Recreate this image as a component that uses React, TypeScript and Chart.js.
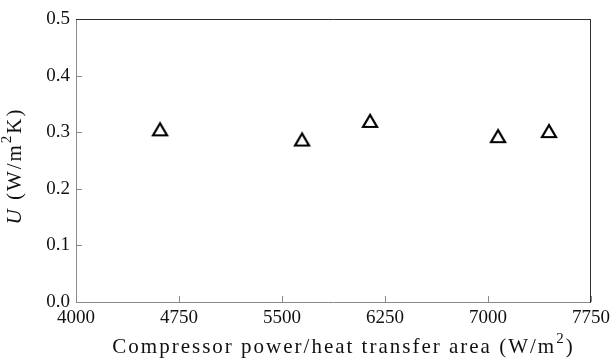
import React, { useEffect, useRef } from 'react';
import { Chart, registerables } from 'chart.js';

Chart.register(...registerables);

// Data
const powerPerArea = [4612, 5646, 6141, 7073, 7444];
const uValues = [0.305, 0.287, 0.32, 0.293, 0.302];
const xTickValues = [4000, 4750, 5500, 6250, 7000, 7750];
const yTickValues = [0.0, 0.1, 0.2, 0.3, 0.4, 0.5];
const xTitleParts = [
  { text: 'Compressor power/heat transfer area (W/m', kind: 'normal' },
  { text: '2', kind: 'sup' },
  { text: ')', kind: 'normal' },
];
const yTitleParts = [
  { text: 'U', kind: 'italic' },
  { text: ' (W/m', kind: 'normal' },
  { text: '2', kind: 'sup' },
  { text: 'K)', kind: 'normal' },
];

const FONT = '"Liberation Serif", "Times New Roman", serif';
const TITLE_SIZE = 21;
const TITLE_SPACING = 2.0;

function fontFor(kind: string) {
  if (kind === 'italic') return `italic ${TITLE_SIZE}px ${FONT}`;
  if (kind === 'sup') return `${Math.round(TITLE_SIZE * 0.7)}px ${FONT}`;
  return `${TITLE_SIZE}px ${FONT}`;
}

function drawRich(ctx: CanvasRenderingContext2D, parts: any[], cx: number, cy: number) {
  (ctx as any).letterSpacing = `${TITLE_SPACING}px`;
  let total = 0;
  const widths = parts.map((p) => {
    ctx.font = fontFor(p.kind);
    const w = ctx.measureText(p.text).width;
    total += w;
    return w;
  });
  let x = cx - total / 2;
  ctx.textBaseline = 'middle';
  ctx.textAlign = 'left';
  parts.forEach((p, i) => {
    ctx.font = fontFor(p.kind);
    const dy = p.kind === 'sup' ? -TITLE_SIZE * 0.38 : 0;
    ctx.fillText(p.text, x, cy + dy);
    x += widths[i];
  });
  (ctx as any).letterSpacing = '0px';
}

const framePlugin = {
  id: 'frame',
  afterDraw(chart: any) {
    const { ctx, chartArea } = chart;
    const { left, right, top, bottom } = chartArea;
    const xs = chart.scales.x;
    const ys = chart.scales.y;
    ctx.save();
    ctx.lineWidth = 1;
    // left & bottom axes (gray)
    ctx.strokeStyle = '#8a8a8a';
    ctx.beginPath();
    ctx.moveTo(left + 0.5, top);
    ctx.lineTo(left + 0.5, bottom + 1);
    ctx.moveTo(left, bottom + 0.5);
    ctx.lineTo(right, bottom + 0.5);
    // inward tick marks
    xTickValues.forEach((v) => {
      const px = Math.round(xs.getPixelForValue(v)) + 0.5;
      ctx.moveTo(px, bottom);
      ctx.lineTo(px, bottom - 6);
    });
    yTickValues.forEach((v) => {
      const py = Math.round(ys.getPixelForValue(v)) + 0.5;
      ctx.moveTo(left, py);
      ctx.lineTo(left + 6, py);
    });
    ctx.stroke();
    // top & right axes (dark)
    ctx.strokeStyle = '#2e2e2e';
    ctx.beginPath();
    ctx.moveTo(left, top + 0.5);
    ctx.lineTo(right, top + 0.5);
    ctx.moveTo(right - 0.5, top);
    ctx.lineTo(right - 0.5, bottom + 1);
    ctx.stroke();

    // titles
    ctx.fillStyle = '#111';
    drawRich(ctx, xTitleParts, (left + right) / 2 + 10, 347);
    ctx.save();
    ctx.translate(15, 166);
    ctx.rotate(-Math.PI / 2);
    drawRich(ctx, yTitleParts, 0, 0);
    ctx.restore();
    ctx.restore();
  },
};

function makeTriangle() {
  const c = document.createElement('canvas');
  c.width = 20;
  c.height = 20;
  const g = c.getContext('2d')!;
  g.strokeStyle = '#000';
  g.lineWidth = 2.2;
  g.lineJoin = 'miter';
  g.beginPath();
  g.moveTo(10, 4);
  g.lineTo(3, 16);
  g.lineTo(17, 16);
  g.closePath();
  g.stroke();
  return c;
}

export default function App() {
  const ref = useRef<HTMLCanvasElement>(null);
  useEffect(() => {
    if (!ref.current) return;
    const tri = makeTriangle();
    const chart = new Chart(ref.current, {
      type: 'scatter',
      data: {
        datasets: [
          {
            data: powerPerArea.map((x, i) => ({ x, y: uValues[i] })),
            pointStyle: tri as any,
            pointRadius: 10,
            borderColor: '#000',
            backgroundColor: 'rgba(0,0,0,0)',
          },
        ],
      },
      options: {
        responsive: false,
        animation: false,
        layout: { padding: { top: 19, right: 19, left: 0, bottom: 0 } },
        plugins: { legend: { display: false }, tooltip: { enabled: false } },
        scales: {
          x: {
            type: 'linear',
            min: 4000,
            max: 7750,
            afterBuildTicks: (s: any) => {
              s.ticks = xTickValues.map((v) => ({ value: v }));
            },
            afterFit: (s: any) => {
              s.height = 58;
              s.paddingLeft = 0;
              s.paddingRight = 0;
            },
            grid: { display: false, drawTicks: false },
            border: { display: false },
            ticks: {
              padding: 5,
              color: '#111',
              font: { family: FONT, size: 19 },
              maxRotation: 0,
              autoSkip: false,
              callback: (v: any) => String(v),
            },
          },
          y: {
            type: 'linear',
            min: 0,
            max: 0.5,
            afterBuildTicks: (s: any) => {
              s.ticks = yTickValues.map((v) => ({ value: v }));
            },
            afterFit: (s: any) => {
              s.width = 76;
              s.paddingTop = 0;
              s.paddingBottom = 0;
            },
            grid: { display: false, drawTicks: false },
            border: { display: false },
            ticks: {
              padding: 6,
              color: '#111',
              font: { family: FONT, size: 19 },
              autoSkip: false,
              callback: (v: any) => Number(v).toFixed(1),
            },
          },
        },
      },
      plugins: [framePlugin],
    });
    return () => chart.destroy();
  }, []);
  return (
    <div style={{ position: 'fixed', left: 0, top: 0, width: 610, height: 360, background: '#fff' }}>
      <canvas ref={ref} width={610} height={360} style={{ display: 'block' }} />
    </div>
  );
}
